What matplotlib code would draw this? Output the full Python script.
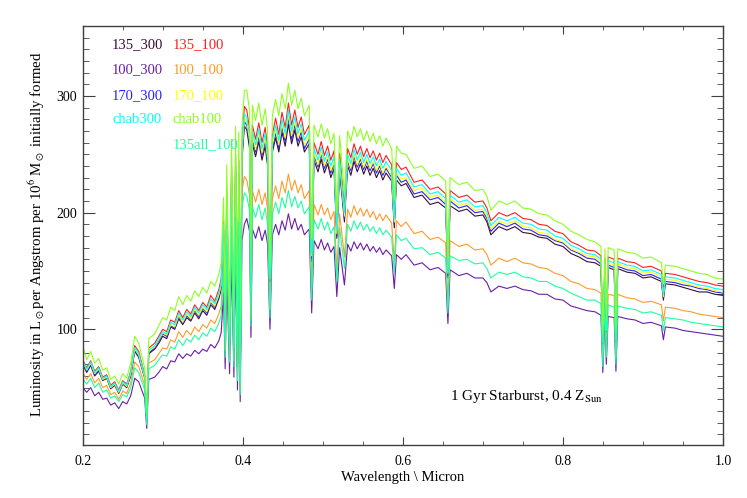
import matplotlib
matplotlib.use('Agg')
import matplotlib.pyplot as plt
from matplotlib.ticker import MultipleLocator

plt.rcParams['font.family'] = ['Liberation Serif', 'DejaVu Serif']
plt.rcParams['mathtext.fontset'] = 'stix'

# wavelength grid (micron) -- denser around the absorption lines
wave = [
    0.200, 0.205, 0.210, 0.215, 0.220, 0.225, 0.230, 0.235, 0.240, 0.245,
    0.250, 0.255, 0.260, 0.265, 0.270, 0.2775, 0.280, 0.2825, 0.290, 0.295,
    0.300, 0.305, 0.310, 0.315, 0.320, 0.325, 0.330, 0.335, 0.340, 0.345,
    0.350, 0.355, 0.360, 0.365, 0.370,
    0.373, 0.376, 0.378, 0.380, 0.3835, 0.386, 0.3889, 0.391, 0.3934, 0.395, 0.3968, 0.399, 0.402,
    0.405, 0.4085, 0.4102, 0.412, 0.416, 0.420, 0.424, 0.428, 0.431, 0.434,
    0.437, 0.441, 0.445, 0.449, 0.453, 0.457, 0.461, 0.465, 0.469, 0.473,
    0.477, 0.483, 0.4861, 0.489, 0.494, 0.498, 0.502, 0.506, 0.510, 0.514,
    0.5175, 0.521, 0.527, 0.531, 0.535, 0.539, 0.543, 0.547, 0.551, 0.555,
    0.559, 0.563, 0.567, 0.571, 0.575, 0.579, 0.586, 0.5893, 0.592, 0.598,
    0.604, 0.614, 0.624, 0.634, 0.644, 0.6535, 0.6563, 0.659, 0.670, 0.680,
    0.690, 0.700, 0.705, 0.710, 0.720, 0.730, 0.740, 0.750, 0.760, 0.770,
    0.780, 0.790, 0.800, 0.810, 0.820, 0.830, 0.840, 0.8475, 0.8498, 0.8525,
    0.8542, 0.8565, 0.864, 0.8662, 0.8685, 0.880, 0.890, 0.900, 0.910, 0.923,
    0.9255, 0.928, 0.940, 0.950, 0.960, 0.970, 0.980, 0.990, 1.000,
]

lum_135_300 = [
    70, 63, 69, 60, 64, 56, 58, 49, 52, 45,
    53, 50, 60, 81, 76, 58, 21, 79, 83, 88,
    94, 92, 102, 100, 109, 104, 110, 107, 114, 109,
    116, 112, 121, 117, 126,
    134, 182, 91, 206, 86, 226, 82, 235, 67, 230, 53, 245, 274,
    271, 255, 130, 259, 248, 261, 245, 257, 240, 139,
    252, 264, 252, 269, 257, 276, 259, 271, 257, 265,
    252, 259, 158, 245, 235, 246, 234, 242, 230, 238,
    178, 236, 192, 240, 232, 244, 235, 242, 233, 240,
    232, 238, 230, 236, 228, 234, 227, 187, 228, 223,
    225, 213, 215, 207, 209, 204, 144, 206, 201, 203,
    197, 198, 192, 181, 188, 185, 188, 183, 182, 179,
    178, 173, 171, 165, 162, 158, 157, 154, 86, 152,
    96, 153, 151, 88, 152, 149, 148, 144, 145, 141,
    125, 139, 138, 136, 134, 132, 132, 130, 129,
]

lum_135_100 = [
    74, 67, 73, 64, 68, 59, 61, 52, 55, 48,
    56, 53, 64, 86, 81, 61, 22, 84, 88, 94,
    100, 98, 108, 106, 116, 110, 117, 113, 121, 116,
    123, 119, 129, 124, 134,
    143, 194, 97, 219, 92, 240, 87, 250, 71, 245, 56, 260, 291,
    288, 271, 138, 275, 263, 277, 260, 273, 255, 148,
    267, 281, 267, 286, 273, 294, 275, 288, 273, 282,
    267, 275, 168, 260, 250, 261, 249, 257, 245, 253,
    189, 251, 204, 255, 247, 259, 250, 257, 248, 255,
    247, 253, 245, 251, 243, 249, 241, 199, 243, 237,
    239, 226, 228, 220, 222, 216, 153, 219, 213, 215,
    209, 210, 204, 193, 200, 197, 200, 195, 194, 190,
    189, 184, 182, 175, 172, 168, 167, 163, 92, 161,
    102, 162, 160, 94, 161, 158, 157, 153, 154, 150,
    133, 148, 147, 145, 143, 141, 140, 138, 137,
]

lum_100_300 = [
    50, 46, 50, 43, 46, 40, 41, 35, 37, 32,
    38, 36, 43, 58, 55, 41, 15, 57, 59, 63,
    68, 66, 73, 72, 79, 75, 79, 77, 82, 79,
    83, 81, 87, 84, 90,
    97, 131, 66, 148, 62, 162, 59, 169, 48, 166, 38, 176, 190,
    195, 184, 93, 186, 178, 188, 176, 185, 173, 100,
    181, 190, 181, 193, 185, 199, 186, 195, 185, 190,
    181, 186, 114, 176, 169, 177, 168, 174, 166, 171,
    128, 170, 138, 173, 167, 175, 169, 174, 168, 173,
    167, 171, 166, 170, 164, 168, 163, 135, 164, 160,
    164, 155, 157, 151, 153, 148, 105, 151, 146, 148,
    144, 144, 140, 132, 137, 135, 137, 134, 133, 130,
    130, 126, 125, 120, 118, 116, 115, 112, 63, 111,
    70, 111, 110, 64, 111, 109, 108, 105, 106, 103,
    91, 102, 101, 99, 98, 97, 96, 95, 94,
]

lum_100_100 = [
    63, 57, 62, 54, 58, 50, 52, 44, 46, 40,
    47, 45, 54, 72, 68, 52, 19, 71, 74, 79,
    84, 83, 91, 89, 98, 93, 99, 95, 102, 98,
    104, 101, 108, 105, 113,
    120, 163, 82, 185, 77, 202, 73, 211, 60, 206, 47, 219, 231,
    228, 215, 109, 219, 209, 220, 207, 217, 203, 117,
    212, 223, 212, 227, 217, 233, 219, 228, 217, 224,
    212, 219, 134, 207, 198, 207, 198, 204, 194, 201,
    150, 199, 162, 203, 196, 206, 198, 204, 197, 203,
    196, 201, 194, 199, 193, 198, 191, 158, 193, 188,
    192, 182, 184, 177, 179, 174, 123, 176, 171, 173,
    168, 169, 164, 155, 161, 158, 161, 157, 156, 153,
    152, 148, 146, 141, 139, 135, 134, 131, 74, 130,
    82, 130, 129, 75, 130, 127, 126, 123, 124, 121,
    107, 119, 118, 116, 115, 113, 112, 111, 110,
]

lum_170_300 = [
    71, 64, 70, 61, 65, 57, 59, 50, 53, 46,
    54, 51, 61, 82, 77, 59, 21, 80, 84, 90,
    96, 94, 103, 101, 111, 105, 112, 108, 116, 111,
    118, 114, 123, 119, 128,
    137, 185, 93, 210, 88, 229, 83, 239, 68, 234, 54, 249, 278,
    275, 259, 132, 263, 252, 265, 249, 261, 244, 141,
    255, 268, 255, 273, 261, 281, 263, 275, 261, 269,
    255, 263, 161, 249, 239, 250, 238, 246, 234, 242,
    180, 240, 195, 244, 236, 248, 239, 246, 237, 244,
    236, 242, 234, 240, 232, 238, 230, 190, 232, 226,
    228, 216, 218, 211, 213, 207, 146, 210, 204, 206,
    200, 201, 195, 184, 191, 188, 191, 186, 185, 181,
    180, 176, 174, 168, 165, 161, 160, 156, 88, 154,
    98, 155, 153, 90, 154, 151, 150, 146, 147, 143,
    127, 141, 140, 138, 137, 135, 134, 132, 131,
]

lum_170_100 = [
    72, 65, 71, 62, 66, 57, 59, 50, 53, 46,
    54, 51, 62, 83, 78, 59, 22, 81, 85, 91,
    97, 95, 104, 102, 112, 106, 113, 109, 117, 112,
    119, 115, 124, 120, 129,
    138, 187, 94, 212, 89, 231, 84, 241, 69, 236, 54, 251, 281,
    278, 262, 133, 266, 254, 268, 251, 264, 246, 143,
    258, 271, 258, 276, 264, 284, 266, 278, 264, 272,
    258, 266, 163, 251, 241, 252, 240, 248, 236, 244,
    182, 242, 197, 246, 238, 250, 241, 248, 239, 246,
    238, 244, 236, 242, 234, 240, 232, 192, 234, 229,
    230, 219, 221, 213, 215, 209, 148, 212, 206, 208,
    202, 203, 197, 186, 193, 190, 193, 188, 187, 183,
    182, 177, 175, 169, 166, 163, 162, 158, 89, 156,
    99, 157, 155, 91, 156, 153, 152, 148, 149, 145,
    128, 143, 142, 140, 138, 136, 135, 133, 132,
]

lum_chab300 = [
    73, 66, 72, 63, 67, 58, 60, 51, 54, 47,
    55, 52, 63, 84, 79, 60, 22, 82, 86, 92,
    98, 96, 106, 104, 114, 108, 115, 111, 119, 114,
    121, 117, 126, 122, 131,
    140, 190, 95, 215, 90, 235, 85, 245, 70, 240, 55, 255, 285,
    282, 266, 135, 270, 258, 272, 255, 268, 250, 145,
    262, 275, 262, 280, 268, 288, 270, 282, 268, 276,
    262, 270, 165, 255, 245, 256, 244, 252, 240, 248,
    185, 246, 200, 250, 242, 254, 245, 252, 243, 250,
    242, 248, 240, 246, 238, 244, 236, 195, 238, 232,
    234, 222, 224, 216, 218, 212, 150, 215, 209, 211,
    205, 206, 200, 189, 196, 193, 196, 191, 190, 186,
    185, 180, 178, 172, 169, 165, 164, 160, 90, 158,
    100, 159, 157, 92, 158, 155, 154, 150, 151, 147,
    130, 145, 144, 142, 140, 138, 137, 135, 134,
]

lum_chab100 = [
    86, 74, 81, 71, 75, 65, 67, 57, 60, 53,
    62, 58, 71, 94, 88, 67, 25, 92, 96, 103,
    110, 108, 119, 116, 128, 121, 129, 124, 133, 128,
    136, 131, 141, 137, 147,
    157, 213, 106, 241, 101, 263, 95, 274, 78, 269, 62, 273, 305,
    305, 287, 146, 292, 279, 294, 275, 289, 270, 157,
    283, 297, 283, 302, 289, 311, 292, 305, 289, 298,
    283, 292, 178, 275, 265, 276, 264, 272, 259, 268,
    200, 266, 216, 270, 261, 274, 265, 272, 262, 270,
    261, 268, 259, 266, 257, 264, 255, 211, 257, 251,
    250, 238, 240, 231, 233, 227, 161, 230, 224, 226,
    219, 220, 214, 202, 210, 207, 210, 204, 203, 199,
    198, 193, 190, 184, 181, 177, 175, 171, 96, 169,
    107, 170, 168, 98, 169, 166, 165, 161, 162, 157,
    139, 155, 154, 152, 150, 148, 147, 144, 143,
]

lum_135all_100 = [
    58, 53, 58, 50, 54, 46, 48, 41, 43, 38,
    44, 42, 50, 67, 63, 48, 18, 66, 69, 74,
    78, 77, 85, 83, 91, 86, 92, 89, 95, 91,
    97, 94, 101, 98, 105,
    112, 152, 76, 172, 72, 188, 68, 196, 56, 192, 44, 204, 217,
    214, 202, 103, 205, 196, 207, 194, 204, 190, 110,
    199, 209, 199, 213, 204, 219, 205, 214, 204, 210,
    199, 205, 125, 194, 186, 195, 185, 192, 182, 188,
    141, 187, 152, 190, 184, 193, 186, 192, 185, 190,
    184, 188, 182, 187, 181, 185, 179, 148, 181, 176,
    178, 169, 170, 164, 166, 161, 114, 163, 159, 160,
    156, 157, 152, 144, 149, 147, 149, 145, 144, 141,
    141, 137, 135, 131, 128, 125, 125, 122, 68, 120,
    76, 121, 119, 70, 120, 118, 117, 114, 115, 112,
    99, 110, 109, 108, 106, 105, 104, 103, 102,
]

names = ['135_300', '135_100', '100_300', '100_100', '170_300',
         '170_100', 'chab300', 'chab100', '135all_100']
series = [lum_135_300, lum_135_100, lum_100_300, lum_100_100, lum_170_300,
          lum_170_100, lum_chab300, lum_chab100, lum_135all_100]
colors = ['#3a0c3e', '#ff1e1e', '#6a1eaa', '#ff9a28', '#2626ff',
          '#ffff00', '#00ffff', '#8cff1e', '#1effa0']

fig = plt.figure(figsize=(7.47, 4.98), dpi=100)
ax = fig.add_axes([0.1107, 0.1064, 0.8572, 0.8414])

for y, c in zip(series, colors):
    ax.plot(wave, y, color=c, lw=0.8)

ax.set_xlim(0.2, 1.0)
ax.set_ylim(0.8, 360)

ax.set_xticks([0.2, 0.4, 0.6, 0.8, 1.0])
ax.set_xticklabels(['0.2', '0.4', '0.6', '0.8', '1.0'])
ax.set_yticks([100, 200, 300])
ax.xaxis.set_minor_locator(MultipleLocator(0.05))
ax.yaxis.set_minor_locator(MultipleLocator(10))

ax.tick_params(which='both', direction='in', top=True, right=True,
               color='#404040', labelsize=10)
ax.tick_params(axis='x', which='major', length=5.8, pad=7)
ax.tick_params(axis='x', which='minor', length=2.9)
ax.tick_params(axis='y', which='major', length=8.6, pad=4)
ax.tick_params(axis='y', which='minor', length=4.3)
for s in ax.spines.values():
    s.set_color('#404040')
    s.set_linewidth(1.0)

ax.set_xlabel('Wavelength \\ Micron', fontsize=10.5)
ax.xaxis.set_label_coords(0.5, -0.062)
ax.set_ylabel('Luminosity in L$_\\odot$per Angstrom per 10$^6$ M$_\\odot$ initially formed',
              fontsize=10.7)
ax.yaxis.set_label_coords(-0.056, 0.503)

# model names, two columns like in the original plot
col_x = [0.046, 0.1406, 0.046, 0.1406, 0.046, 0.1406, 0.046, 0.1406, 0.1406]
row_y = [0.955, 0.955, 0.895, 0.895, 0.835, 0.835, 0.777, 0.777, 0.716]
for n, c, x, y in zip(names, colors, col_x, row_y):
    ax.text(x, y, n, color=c, fontsize=10.5, transform=ax.transAxes,
            ha='left', va='center')

ax.text(0.5736, 0.115, '1 Gyr Starburst, 0.4 Z$_{\\rm Sun}$', fontsize=11,
        transform=ax.transAxes, ha='left', va='center')

plt.savefig('out.png', dpi=100)
